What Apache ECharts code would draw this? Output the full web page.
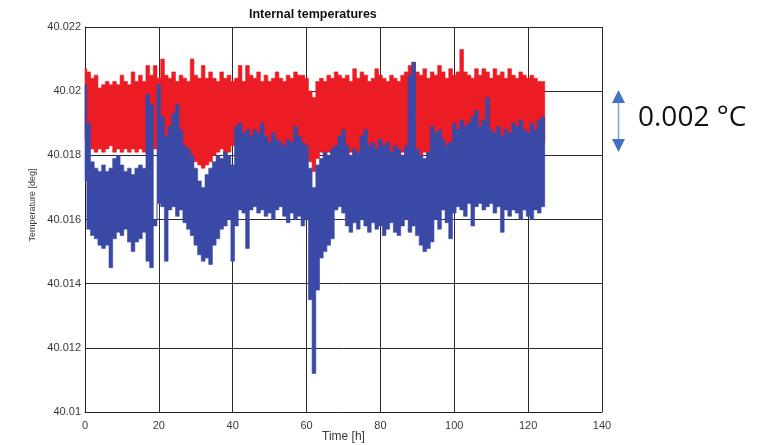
<!DOCTYPE html>
<html>
<head>
<meta charset="utf-8">
<style>
html,body{margin:0;padding:0;background:#fff;}
#chart{width:761px;height:445px;}
</style>
<script src="https://cdn.jsdelivr.net/npm/echarts@6/dist/echarts.min.js"></script>
</head>
<body>
<div id="chart"></div>
<script>
// X axis ticks (hours) and Y axis ticks (deg)
const xTicks = [0, 20, 40, 60, 80, 100, 120, 140];
const yTicks = [40.01, 40.012, 40.014, 40.016, 40.018, 40.02, 40.022];

// Red series envelope (upper / lower edge), one value per hour, t = 0..124
const redHi = [
40.0207,40.0206,40.0204,40.0205,40.0201,40.0202,40.0203,40.0202,40.0203,40.0202,
40.0205,40.0203,40.0202,40.0206,40.0203,40.0205,40.0203,40.0208,40.0205,40.0208,
40.0204,40.0210,40.0205,40.0204,40.0206,40.0203,40.0205,40.0204,40.0203,40.0210,
40.0205,40.0204,40.0208,40.0204,40.0206,40.0204,40.0203,40.0206,40.0204,40.0205,
40.0203,40.0204,40.0208,40.0203,40.0208,40.0205,40.0204,40.0206,40.0203,40.0205,
40.0203,40.0204,40.0206,40.0204,40.0203,40.0205,40.0204,40.0206,40.0205,40.0205,
40.0204,40.0200,40.0198,40.0203,40.0204,40.0203,40.0205,40.0204,40.0206,40.0205,
40.0204,40.0205,40.0203,40.0207,40.0204,40.0206,40.0205,40.0203,40.0204,40.0207,
40.0205,40.0204,40.0203,40.0205,40.0204,40.0203,40.0205,40.0206,40.0208,40.0209,
40.0206,40.0205,40.0207,40.0204,40.0206,40.0205,40.0208,40.0206,40.0204,40.0207,
40.0205,40.0206,40.0213,40.0206,40.0205,40.0204,40.0207,40.0205,40.0207,40.0206,
40.0204,40.0207,40.0205,40.0206,40.0204,40.0207,40.0205,40.0204,40.0206,40.0205,
40.0204,40.0205,40.0204,40.0203,40.0203
];
const redLo = [
40.0185,40.0184,40.0182,40.0181,40.0182,40.0181,40.0182,40.0183,40.0181,40.0182,
40.0181,40.0182,40.0181,40.0182,40.0181,40.0182,40.0181,40.0182,40.0182,40.0182,
40.0182,40.0182,40.0184,40.0182,40.0184,40.0183,40.0183,40.0181,40.0180,40.0179,
40.0178,40.0177,40.0176,40.0177,40.0178,40.0180,40.0181,40.0182,40.0180,40.0181,
40.0183,40.0183,40.0183,40.0183,40.0183,40.0183,40.0183,40.0183,40.0183,40.0183,
40.0183,40.0183,40.0183,40.0183,40.0182,40.0182,40.0183,40.0182,40.0182,40.0182,
40.0182,40.0178,40.0175,40.0179,40.0181,40.0179,40.0181,40.0180,40.0181,40.0179,
40.0181,40.0180,40.0181,40.0179,40.0181,40.0180,40.0181,40.0179,40.0181,40.0180,
40.0181,40.0179,40.0181,40.0180,40.0181,40.0179,40.0181,40.0180,40.0181,40.0181,
40.0182,40.0180,40.0181,40.0179,40.0182,40.0180,40.0181,40.0179,40.0182,40.0180,
40.0181,40.0182,40.0184,40.0184,40.0184,40.0184,40.0184,40.0184,40.0184,40.0184,
40.0184,40.0184,40.0184,40.0184,40.0184,40.0184,40.0184,40.0184,40.0184,40.0184,
40.0184,40.0184,40.0184,40.0184,40.0184
];

// Blue series envelope (upper / lower edge), one value per hour, t = 0..124
const blueHi = [
40.0202,40.0190,40.0178,40.0176,40.0175,40.0177,40.0175,40.0176,40.0179,40.0180,
40.0177,40.0175,40.0176,40.0174,40.0176,40.0177,40.0176,40.0199,40.0196,40.0160,
40.0202,40.0192,40.0186,40.0189,40.0193,40.0196,40.0188,40.0183,40.0182,40.0180,
40.0176,40.0172,40.0170,40.0174,40.0176,40.0178,40.0180,40.0179,40.0181,40.0180,
40.0177,40.0189,40.0190,40.0187,40.0188,40.0186,40.0188,40.0187,40.0190,40.0186,
40.0184,40.0187,40.0185,40.0184,40.0183,40.0185,40.0184,40.0189,40.0186,40.0184,
40.0183,40.0176,40.0170,40.0177,40.0179,40.0181,40.0180,40.0182,40.0183,40.0186,
40.0188,40.0183,40.0180,40.0182,40.0181,40.0186,40.0188,40.0183,40.0184,40.0182,
40.0185,40.0183,40.0184,40.0181,40.0183,40.0182,40.0180,40.0183,40.0205,40.0209,
40.0182,40.0180,40.0179,40.0181,40.0189,40.0187,40.0188,40.0185,40.0183,40.0184,
40.0190,40.0188,40.0191,40.0189,40.0190,40.0192,40.0194,40.0189,40.0191,40.0198,
40.0188,40.0187,40.0189,40.0186,40.0188,40.0187,40.0190,40.0189,40.0191,40.0188,
40.0187,40.0190,40.0188,40.0191,40.0192
];
const blueLo = [
40.0172,40.0157,40.0155,40.0154,40.0152,40.0151,40.0152,40.0145,40.0154,40.0156,
40.0155,40.0157,40.0153,40.0150,40.0153,40.0154,40.0156,40.0147,40.0145,40.0158,
40.0165,40.0164,40.0147,40.0163,40.0164,40.0161,40.0163,40.0159,40.0157,40.0155,
40.0152,40.0149,40.0147,40.0148,40.0146,40.0152,40.0154,40.0157,40.0158,40.0160,
40.0147,40.0158,40.0163,40.0162,40.0151,40.0163,40.0164,40.0162,40.0163,40.0161,
40.0162,40.0160,40.0163,40.0164,40.0161,40.0159,40.0162,40.0160,40.0161,40.0158,
40.0160,40.0135,40.0112,40.0138,40.0148,40.0150,40.0152,40.0154,40.0163,40.0164,
40.0162,40.0158,40.0156,40.0159,40.0157,40.0160,40.0158,40.0156,40.0159,40.0157,
40.0158,40.0155,40.0157,40.0159,40.0156,40.0155,40.0158,40.0160,40.0156,40.0158,
40.0155,40.0152,40.0150,40.0151,40.0153,40.0160,40.0157,40.0163,40.0159,40.0154,
40.0162,40.0164,40.0163,40.0161,40.0165,40.0158,40.0164,40.0165,40.0163,40.0164,
40.0165,40.0162,40.0164,40.0156,40.0163,40.0161,40.0163,40.0162,40.0160,40.0163,
40.0161,40.0160,40.0163,40.0162,40.0164
];

const hours = redHi.map((_, i) => i);

function rangeData(lo, hi) { return hours.map((t, i) => [t, lo[i], hi[i]]); }

const RED = '#ec1c24';
const BLUE = '#3a49a6';

// Draws the whole band as one stepped polygon (upper edge forward, lower edge back)
function makeRender(lo, hi, color) {
  return function (params, api) {
    if (params.dataIndex !== 0) return null;
    const n = hours.length;
    const top = [], bottom = [];
    for (let i = 0; i < n; i++) {
      const t0 = Math.max(hours[0], hours[i] - 0.5);
      const t1 = hours[i] + 0.5;
      top.push(api.coord([t0, hi[i]]), api.coord([t1, hi[i]]));
      bottom.push(api.coord([t0, lo[i]]), api.coord([t1, lo[i]]));
    }
    const pts = top.concat(bottom.reverse());
    return {
      type: 'polygon',
      shape: {points: pts},
      style: {fill: color, stroke: color, lineWidth: 0.6}
    };
  };
}

const chart = echarts.init(document.getElementById('chart'), null, {renderer: 'canvas'});

const axisTextColor = '#3a3a3a';

chart.setOption({
  animation: false,
  backgroundColor: '#ffffff',
  title: {
    text: 'Internal temperatures',
    left: 244,
    top: 3,
    textStyle: {fontFamily: 'Liberation Sans, Arial, sans-serif', fontSize: 12.5, fontWeight: 'bold', color: '#111'}
  },
  grid: {left: 85, right: 159, top: 27, bottom: 33, containLabel: false, outerBoundsMode: 'none'},
  xAxis: {
    type: 'value',
    min: xTicks[0],
    max: xTicks[xTicks.length - 1],
    interval: 20,
    name: 'Time [h]',
    nameLocation: 'middle',
    nameGap: 19,
    nameMoveOverlap: false,
    nameTextStyle: {fontFamily: 'Liberation Sans, Arial, sans-serif', fontSize: 12, color: axisTextColor},
    axisLine: {show: true, lineStyle: {color: '#222', width: 1}},
    axisTick: {show: false},
    axisLabel: {fontFamily: 'Liberation Sans, Arial, sans-serif', fontSize: 11, color: axisTextColor, margin: 8},
    splitLine: {show: true, lineStyle: {color: '#2a2a2a', width: 1}}
  },
  yAxis: {
    type: 'value',
    min: yTicks[0],
    max: yTicks[yTicks.length - 1],
    interval: 0.002,
    axisLine: {show: true, lineStyle: {color: '#222', width: 1}},
    axisTick: {show: false},
    axisLabel: {
      fontFamily: 'Liberation Sans, Arial, sans-serif', fontSize: 11, color: axisTextColor, margin: 4,
      formatter: v => String(Math.round(v * 1000) / 1000)
    },
    splitLine: {show: true, lineStyle: {color: '#2a2a2a', width: 1}}
  },
  graphic: [
    {
      type: 'text',
      x: 33, y: 205,
      rotation: Math.PI / 2,
      style: {text: 'Temperature [deg]', fill: axisTextColor, font: '9px "Liberation Sans", Arial, sans-serif', align: 'center', verticalAlign: 'middle'}
    },
    {
      type: 'line',
      shape: {x1: 618.5, y1: 100, x2: 618.5, y2: 141},
      style: {stroke: '#7f9fd8', lineWidth: 1.5}
    },
    {
      type: 'polygon',
      shape: {points: [[618.5, 90], [612, 103], [625, 103]]},
      style: {fill: '#4472c4'}
    },
    {
      type: 'polygon',
      shape: {points: [[618.5, 152], [612, 139], [625, 139]]},
      style: {fill: '#4472c4'}
    },
    {
      type: 'text',
      x: 638, y: 118,
      style: {text: '0.002 °C', fill: '#111', font: '28px "Open Sans", sans-serif', align: 'left', verticalAlign: 'middle'}
    }
  ],
  series: [
    {
      name: 'red', type: 'custom', silent: true, z: 2,
      renderItem: makeRender(redLo, redHi, RED),
      encode: {x: 0, y: [1, 2]},
      data: rangeData(redLo, redHi)
    },
    {
      name: 'blue', type: 'custom', silent: true, z: 3,
      renderItem: makeRender(blueLo, blueHi, BLUE),
      encode: {x: 0, y: [1, 2]},
      data: rangeData(blueLo, blueHi)
    }
  ]
});
</script>
</body>
</html>
